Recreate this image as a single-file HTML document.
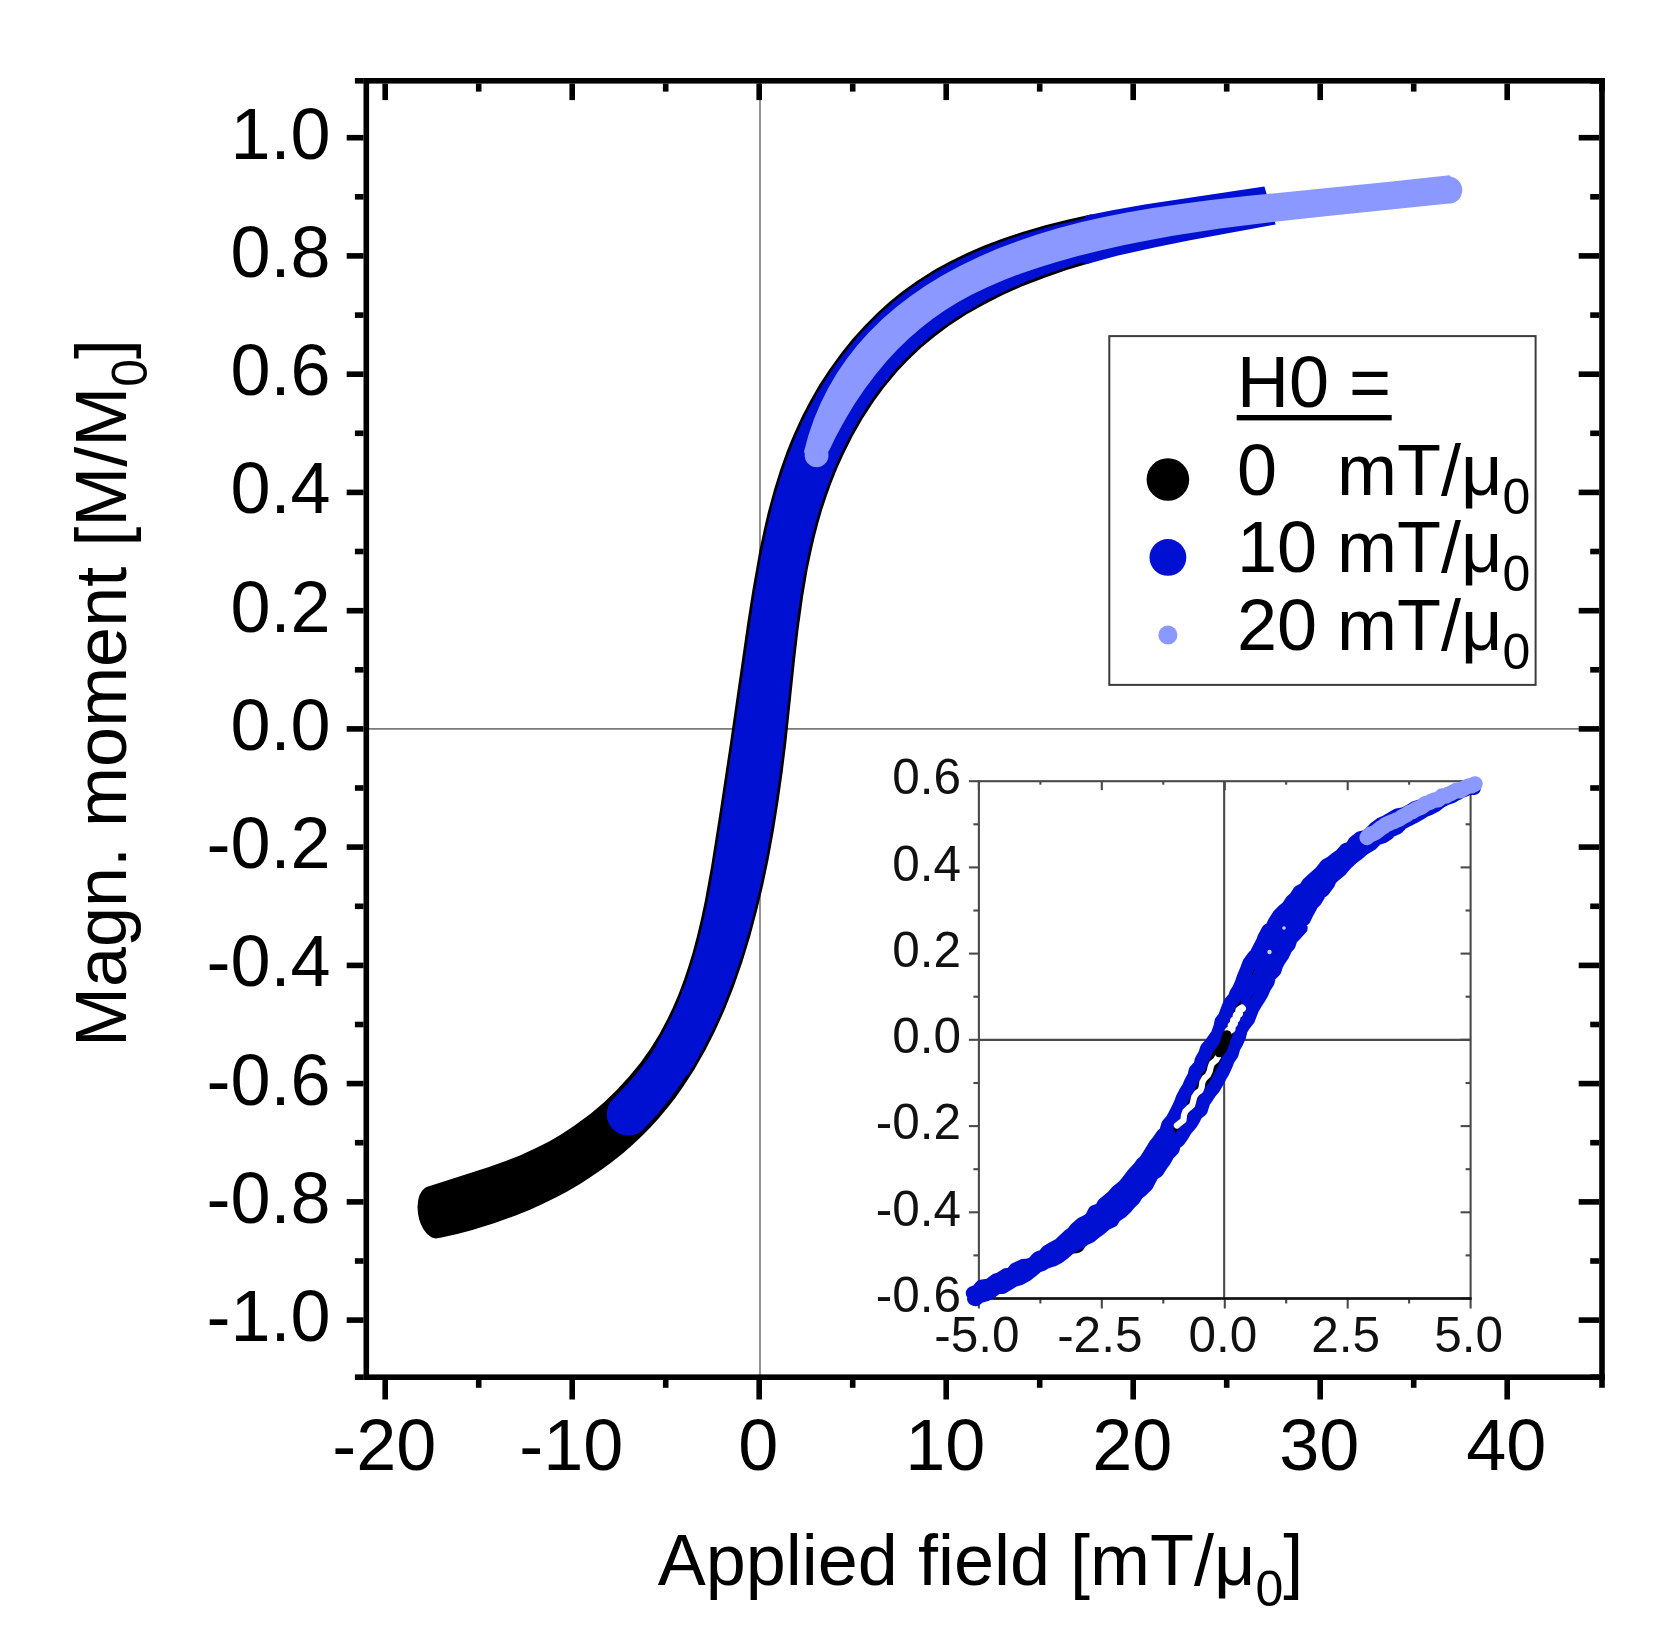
<!DOCTYPE html>
<html lang="en"><head><meta charset="utf-8"><title>Magnetisation curve</title>
<style>html,body{margin:0;padding:0;background:#fff}svg{display:block;filter:blur(0.55px)}</style></head>
<body>
<svg width="1659" height="1648" viewBox="0 0 1659 1648" font-family="'Liberation Sans', Arial, sans-serif" fill="#000">
<rect width="1659" height="1648" fill="#fff"/>
<g stroke="#7a7a7a" stroke-width="1.6"><line x1="366.3" x2="1602.0" y1="728.9" y2="728.9"/><line x1="760.0" x2="760.0" y1="80.8" y2="1377.2"/></g>
<path d="M426.6 1187.0 L424.9 1188.0 L421.9 1191.0 L419.5 1195.3 L418.7 1197.9 L418.1 1200.7 L417.5 1206.9 L418.0 1213.4 L419.3 1219.8 L420.4 1222.9 L423.0 1228.4 L426.2 1233.0 L428.0 1234.8 L431.8 1237.4 L433.7 1238.1 L435.7 1238.4 L440.4 1237.7 L457.3 1233.9 L471.5 1230.2 L494.0 1223.3 L516.3 1215.3 L530.0 1209.7 L543.5 1203.6 L556.8 1197.0 L567.2 1191.4 L580.0 1183.9 L589.9 1177.6 L602.1 1169.3 L611.6 1162.3 L623.0 1153.2 L631.8 1145.6 L642.5 1135.6 L650.6 1127.3 L658.4 1118.7 L667.8 1107.6 L674.9 1098.4 L683.3 1086.6 L694.4 1069.5 L705.9 1049.2 L715.2 1030.8 L724.9 1009.3 L733.6 987.3 L742.4 962.0 L750.2 936.4 L757.1 910.6 L763.3 884.7 L768.7 858.9 L774.0 830.0 L778.6 801.1 L782.7 772.1 L786.3 742.9 L795.3 657.6 L798.7 628.2 L803.2 595.9 L807.6 569.7 L811.2 552.4 L814.5 538.1 L818.1 523.9 L822.2 509.8 L826.8 495.8 L831.8 482.0 L837.3 468.3 L843.3 454.9 L852.5 436.5 L862.6 418.7 L873.8 401.6 L884.1 387.5 L897.1 371.8 L909.0 359.2 L921.7 347.3 L935.1 336.2 L949.1 325.8 L966.3 314.6 L984.2 304.4 L1002.7 295.1 L1021.7 286.6 L1044.0 277.9 L1066.6 270.1 L1092.0 262.5 L1092.0 214.2 L1068.3 219.4 L1045.2 225.3 L1022.4 231.9 L1002.8 238.5 L983.6 245.8 L967.5 252.8 L949.2 261.7 L934.0 270.1 L916.9 280.9 L902.8 291.0 L889.2 302.0 L876.3 313.7 L864.0 326.2 L852.2 339.3 L841.2 353.0 L829.1 369.8 L819.4 384.6 L810.5 399.9 L802.3 415.6 L793.7 434.3 L787.0 450.6 L780.1 469.9 L774.0 489.5 L767.8 512.3 L763.8 529.5 L759.5 549.7 L752.3 590.5 L747.3 622.6 L729.8 744.2 L719.4 813.6 L711.1 866.3 L704.7 901.5 L701.0 918.9 L696.9 936.2 L692.4 953.3 L688.1 967.3 L683.4 981.2 L678.3 994.8 L672.6 1008.1 L667.6 1018.6 L659.4 1033.9 L650.3 1048.7 L640.2 1063.0 L629.1 1076.6 L617.2 1089.6 L604.4 1101.9 L590.9 1113.4 L574.2 1125.8 L561.8 1133.9 L549.1 1141.4 L536.0 1148.1 L519.9 1155.4 L506.3 1160.8 L489.7 1166.7Z" fill="#000"/>
<path d="M643.3 1129.5 L657.5 1114.1 L670.1 1098.5 L678.6 1086.9 L685.8 1076.1 L688.0 1074.7 L699.4 1055.6 L711.5 1032.3 L717.7 1019.0 L723.5 1005.5 L734.1 978.0 L743.4 949.9 L751.6 921.4 L759.4 889.9 L766.6 855.5 L772.8 820.9 L777.6 789.1 L782.2 754.3 L785.9 722.1 L793.2 651.4 L797.5 616.1 L800.5 595.5 L803.4 578.0 L809.8 546.1 L814.8 526.0 L819.6 509.0 L826.2 489.4 L832.5 472.7 L840.8 453.8 L848.7 437.9 L857.3 422.3 L866.6 407.3 L873.2 397.6 L880.2 388.1 L887.5 379.0 L895.0 370.1 L903.0 361.5 L911.2 353.2 L926.5 339.5 L935.7 332.3 L945.2 325.3 L954.9 318.7 L964.9 312.4 L985.6 300.6 L996.2 295.3 L1009.7 288.9 L1026.2 281.8 L1043.0 275.3 L1062.9 268.5 L1081.6 262.6 L1084.0 262.7 L1086.0 264.2 L1118.1 255.6 L1155.5 247.2 L1190.1 240.3 L1275.7 224.4 L1264.4 186.4 L1144.7 204.5 L1112.3 210.2 L1086.1 215.4 L1085.2 217.4 L1083.3 218.8 L1054.5 225.6 L1026.0 233.6 L1000.9 242.0 L976.5 251.7 L963.4 257.7 L953.0 262.8 L940.4 269.6 L930.5 275.4 L920.8 281.6 L911.4 288.1 L902.2 294.9 L893.2 302.2 L884.5 309.8 L876.1 317.7 L867.9 325.9 L858.1 336.6 L843.3 354.7 L836.3 364.1 L828.1 376.1 L818.7 391.0 L808.7 408.9 L800.9 424.7 L792.8 443.4 L785.5 462.5 L779.1 481.9 L773.4 501.6 L767.7 524.3 L760.5 558.9 L754.0 596.7 L726.5 785.0 L712.8 872.6 L708.5 896.1 L703.7 919.5 L698.8 939.8 L693.3 959.7 L686.0 982.1 L677.4 1003.9 L672.6 1014.6 L667.4 1025.0 L661.8 1035.2 L656.7 1043.8 L656.7 1045.0 L656.1 1046.6 L646.7 1060.5 L635.8 1074.5 L626.0 1085.7 L611.2 1101.0 L609.0 1104.6 L607.5 1108.6 L606.8 1112.7 L606.8 1115.6 L607.5 1119.6 L608.4 1122.4 L610.3 1126.0 L612.0 1128.3 L614.1 1130.3 L617.4 1132.7 L620.1 1134.0 L624.0 1135.2 L626.9 1135.6 L631.0 1135.5 L633.9 1134.9 L637.7 1133.4 L640.2 1132.0Z" fill="#0010d2"/>
<path d="M803.9 452.0 L804.7 453.2 L804.7 456.5 L805.5 459.9 L807.4 462.9 L810.0 465.3 L812.1 466.4 L814.2 467.1 L817.7 467.2 L821.1 466.4 L824.2 464.5 L826.6 461.9 L828.1 458.8 L828.5 456.4 L828.3 452.3 L828.5 451.3 L829.2 450.5 L835.3 437.8 L842.0 425.2 L848.2 414.4 L854.7 403.8 L864.7 388.9 L875.4 374.7 L886.8 361.0 L897.7 349.3 L909.1 338.2 L921.0 327.9 L932.1 319.2 L945.0 310.3 L958.3 302.1 L972.1 294.5 L987.8 286.9 L1004.0 280.0 L1020.4 273.7 L1038.9 267.4 L1057.5 261.7 L1078.0 256.1 L1100.3 250.5 L1124.5 245.1 L1148.7 240.2 L1173.0 235.8 L1220.1 228.6 L1272.7 221.9 L1325.3 216.2 L1446.6 203.8 L1451.3 203.6 L1453.9 202.8 L1457.3 200.8 L1459.2 198.9 L1460.7 196.7 L1461.7 194.1 L1462.2 191.5 L1462.2 188.8 L1461.3 185.0 L1460.0 182.5 L1457.3 179.6 L1453.9 177.6 L1450.6 176.5 L1449.6 175.3 L1391.9 181.6 L1246.4 196.1 L1208.9 200.3 L1179.0 204.2 L1152.8 208.0 L1126.8 212.5 L1102.8 217.3 L1080.7 222.3 L1058.8 228.0 L1037.1 234.5 L1017.5 241.2 L998.0 248.6 L979.0 256.8 L960.4 265.8 L942.3 275.6 L926.4 285.3 L911.1 295.8 L896.4 307.1 L882.5 319.1 L869.3 332.1 L857.0 345.8 L846.7 359.0 L837.2 372.8 L828.6 387.5 L820.8 402.9 L814.0 419.1 L808.2 436.1Z" fill="#8a98ff"/>
<g><rect x="363.5" y="78.0" width="5.6" height="1302.0"/><rect x="1599.2" y="78.0" width="5.6" height="1302.0"/><rect x="363.5" y="78.0" width="1241.3" height="5.6"/><rect x="363.5" y="1374.4" width="1241.3" height="5.6"/><rect x="354.9" y="1374.4" width="8.6" height="5.6"/><rect x="1590.2" y="1374.4" width="9.0" height="5.6"/><rect x="346.7" y="1317.3" width="16.8" height="5.6"/><rect x="1578.7" y="1317.3" width="20.5" height="5.6"/><rect x="354.9" y="1258.2" width="8.6" height="5.6"/><rect x="1590.2" y="1258.2" width="9.0" height="5.6"/><rect x="346.7" y="1199.1" width="16.8" height="5.6"/><rect x="1578.7" y="1199.1" width="20.5" height="5.6"/><rect x="354.9" y="1139.9" width="8.6" height="5.6"/><rect x="1590.2" y="1139.9" width="9.0" height="5.6"/><rect x="346.7" y="1080.8" width="16.8" height="5.6"/><rect x="1578.7" y="1080.8" width="20.5" height="5.6"/><rect x="354.9" y="1021.7" width="8.6" height="5.6"/><rect x="1590.2" y="1021.7" width="9.0" height="5.6"/><rect x="346.7" y="962.6" width="16.8" height="5.6"/><rect x="1578.7" y="962.6" width="20.5" height="5.6"/><rect x="354.9" y="903.5" width="8.6" height="5.6"/><rect x="1590.2" y="903.5" width="9.0" height="5.6"/><rect x="346.7" y="844.3" width="16.8" height="5.6"/><rect x="1578.7" y="844.3" width="20.5" height="5.6"/><rect x="354.9" y="785.2" width="8.6" height="5.6"/><rect x="1590.2" y="785.2" width="9.0" height="5.6"/><rect x="346.7" y="726.1" width="16.8" height="5.6"/><rect x="1578.7" y="726.1" width="20.5" height="5.6"/><rect x="354.9" y="667.0" width="8.6" height="5.6"/><rect x="1590.2" y="667.0" width="9.0" height="5.6"/><rect x="346.7" y="607.9" width="16.8" height="5.6"/><rect x="1578.7" y="607.9" width="20.5" height="5.6"/><rect x="354.9" y="548.7" width="8.6" height="5.6"/><rect x="1590.2" y="548.7" width="9.0" height="5.6"/><rect x="346.7" y="489.6" width="16.8" height="5.6"/><rect x="1578.7" y="489.6" width="20.5" height="5.6"/><rect x="354.9" y="430.5" width="8.6" height="5.6"/><rect x="1590.2" y="430.5" width="9.0" height="5.6"/><rect x="346.7" y="371.4" width="16.8" height="5.6"/><rect x="1578.7" y="371.4" width="20.5" height="5.6"/><rect x="354.9" y="312.3" width="8.6" height="5.6"/><rect x="1590.2" y="312.3" width="9.0" height="5.6"/><rect x="346.7" y="253.1" width="16.8" height="5.6"/><rect x="1578.7" y="253.1" width="20.5" height="5.6"/><rect x="354.9" y="194.0" width="8.6" height="5.6"/><rect x="1590.2" y="194.0" width="9.0" height="5.6"/><rect x="346.7" y="134.9" width="16.8" height="5.6"/><rect x="1578.7" y="134.9" width="20.5" height="5.6"/><rect x="354.9" y="78.0" width="8.6" height="5.6"/><rect x="1590.2" y="78.0" width="9.0" height="5.6"/><rect x="382.4" y="83.6" width="5.6" height="16.5"/><rect x="382.4" y="1380.0" width="5.6" height="19.5"/><rect x="475.9" y="83.6" width="5.6" height="8.0"/><rect x="475.9" y="1380.0" width="5.6" height="7.8"/><rect x="569.4" y="83.6" width="5.6" height="16.5"/><rect x="569.4" y="1380.0" width="5.6" height="19.5"/><rect x="662.9" y="83.6" width="5.6" height="8.0"/><rect x="662.9" y="1380.0" width="5.6" height="7.8"/><rect x="756.4" y="83.6" width="5.6" height="16.5"/><rect x="756.4" y="1380.0" width="5.6" height="19.5"/><rect x="849.9" y="83.6" width="5.6" height="8.0"/><rect x="849.9" y="1380.0" width="5.6" height="7.8"/><rect x="943.4" y="83.6" width="5.6" height="16.5"/><rect x="943.4" y="1380.0" width="5.6" height="19.5"/><rect x="1036.9" y="83.6" width="5.6" height="8.0"/><rect x="1036.9" y="1380.0" width="5.6" height="7.8"/><rect x="1130.4" y="83.6" width="5.6" height="16.5"/><rect x="1130.4" y="1380.0" width="5.6" height="19.5"/><rect x="1223.9" y="83.6" width="5.6" height="8.0"/><rect x="1223.9" y="1380.0" width="5.6" height="7.8"/><rect x="1317.4" y="83.6" width="5.6" height="16.5"/><rect x="1317.4" y="1380.0" width="5.6" height="19.5"/><rect x="1410.9" y="83.6" width="5.6" height="8.0"/><rect x="1410.9" y="1380.0" width="5.6" height="7.8"/><rect x="1504.4" y="83.6" width="5.6" height="16.5"/><rect x="1504.4" y="1380.0" width="5.6" height="19.5"/><rect x="1599.2" y="83.6" width="5.6" height="8.0"/><rect x="1599.2" y="1380.0" width="5.6" height="7.8"/></g>
<g font-size="72" text-anchor="end">
<text x="330.5" y="1341.1">-1.0</text>
<text x="330.5" y="1222.9">-0.8</text>
<text x="330.5" y="1104.6">-0.6</text>
<text x="330.5" y="986.4">-0.4</text>
<text x="330.5" y="868.1">-0.2</text>
<text x="330.5" y="749.9">0.0</text>
<text x="330.5" y="631.7">0.2</text>
<text x="330.5" y="513.4">0.4</text>
<text x="330.5" y="395.2">0.6</text>
<text x="330.5" y="276.9">0.8</text>
<text x="330.5" y="158.7">1.0</text>
</g>
<g font-size="72" text-anchor="middle">
<text x="384.2" y="1469.8">-20</text>
<text x="571.2" y="1469.8">-10</text>
<text x="758.2" y="1469.8">0</text>
<text x="945.2" y="1469.8">10</text>
<text x="1132.2" y="1469.8">20</text>
<text x="1319.2" y="1469.8">30</text>
<text x="1506.2" y="1469.8">40</text>
</g>
<text x="980.5" y="1584.8" font-size="72" text-anchor="middle">Applied field [mT/μ<tspan font-size="50" dy="21">0</tspan><tspan dy="-21">]</tspan></text>
<text transform="translate(126.3 693) rotate(-90)" font-size="72" text-anchor="middle">Magn. moment [M/M<tspan font-size="50" dy="21">0</tspan><tspan dy="-21">]</tspan></text>
<rect x="1109.3" y="336.1" width="426.3" height="348.8" fill="#fff" stroke="#3c3c3c" stroke-width="2"/>
<text x="1237" y="406.9" font-size="72">H0 =</text>
<rect x="1236.7" y="415" width="155" height="5.4"/>
<circle cx="1167.9" cy="479.5" r="21.3" fill="#000"/>
<text x="1237" y="494.8" font-size="72">0<tspan x="1337">mT/μ</tspan><tspan font-size="50" dy="19">0</tspan></text>
<circle cx="1167.9" cy="557.4" r="18.4" fill="#0010d2"/>
<text x="1237" y="572" font-size="72">10<tspan x="1337">mT/μ</tspan><tspan font-size="50" dy="19">0</tspan></text>
<circle cx="1167.9" cy="635" r="9.5" fill="#8a98ff"/>
<text x="1237" y="650" font-size="72">20<tspan x="1337">mT/μ</tspan><tspan font-size="50" dy="19">0</tspan></text>
<g stroke="#4a4a4a" stroke-width="2.1" fill="none"><line x1="978.9" x2="1470.6" y1="1039.85" y2="1039.85"/><line x1="1224.15" x2="1224.15" y1="781.2" y2="1298.5"/><rect x="978.9" y="781.2" width="491.7" height="517.3"/><line x1="968.9" x2="978.9" y1="1298.5" y2="1298.5"/><line x1="1460.6" x2="1470.6" y1="1298.5" y2="1298.5"/><line x1="973.4" x2="978.9" y1="1255.4" y2="1255.4"/><line x1="1465.6" x2="1470.6" y1="1255.4" y2="1255.4"/><line x1="968.9" x2="978.9" y1="1212.3" y2="1212.3"/><line x1="1460.6" x2="1470.6" y1="1212.3" y2="1212.3"/><line x1="973.4" x2="978.9" y1="1169.2" y2="1169.2"/><line x1="1465.6" x2="1470.6" y1="1169.2" y2="1169.2"/><line x1="968.9" x2="978.9" y1="1126.1" y2="1126.1"/><line x1="1460.6" x2="1470.6" y1="1126.1" y2="1126.1"/><line x1="973.4" x2="978.9" y1="1083.0" y2="1083.0"/><line x1="1465.6" x2="1470.6" y1="1083.0" y2="1083.0"/><line x1="968.9" x2="978.9" y1="1039.8" y2="1039.8"/><line x1="1460.6" x2="1470.6" y1="1039.8" y2="1039.8"/><line x1="973.4" x2="978.9" y1="996.7" y2="996.7"/><line x1="1465.6" x2="1470.6" y1="996.7" y2="996.7"/><line x1="968.9" x2="978.9" y1="953.6" y2="953.6"/><line x1="1460.6" x2="1470.6" y1="953.6" y2="953.6"/><line x1="973.4" x2="978.9" y1="910.5" y2="910.5"/><line x1="1465.6" x2="1470.6" y1="910.5" y2="910.5"/><line x1="968.9" x2="978.9" y1="867.4" y2="867.4"/><line x1="1460.6" x2="1470.6" y1="867.4" y2="867.4"/><line x1="973.4" x2="978.9" y1="824.3" y2="824.3"/><line x1="1465.6" x2="1470.6" y1="824.3" y2="824.3"/><line x1="968.9" x2="978.9" y1="781.2" y2="781.2"/><line x1="1460.6" x2="1470.6" y1="781.2" y2="781.2"/><line x1="978.9" x2="978.9" y1="781.2" y2="790.2"/><line x1="978.9" x2="978.9" y1="1298.5" y2="1308.5"/><line x1="1040.4" x2="1040.4" y1="781.2" y2="784.7"/><line x1="1040.4" x2="1040.4" y1="1298.5" y2="1303.5"/><line x1="1101.8" x2="1101.8" y1="781.2" y2="790.2"/><line x1="1101.8" x2="1101.8" y1="1298.5" y2="1308.5"/><line x1="1163.3" x2="1163.3" y1="781.2" y2="784.7"/><line x1="1163.3" x2="1163.3" y1="1298.5" y2="1303.5"/><line x1="1224.8" x2="1224.8" y1="781.2" y2="790.2"/><line x1="1224.8" x2="1224.8" y1="1298.5" y2="1308.5"/><line x1="1286.2" x2="1286.2" y1="781.2" y2="784.7"/><line x1="1286.2" x2="1286.2" y1="1298.5" y2="1303.5"/><line x1="1347.7" x2="1347.7" y1="781.2" y2="790.2"/><line x1="1347.7" x2="1347.7" y1="1298.5" y2="1308.5"/><line x1="1409.1" x2="1409.1" y1="781.2" y2="784.7"/><line x1="1409.1" x2="1409.1" y1="1298.5" y2="1303.5"/><line x1="1470.6" x2="1470.6" y1="781.2" y2="790.2"/><line x1="1470.6" x2="1470.6" y1="1298.5" y2="1308.5"/></g><line x1="977.9" x2="1471.6" y1="1298.5" y2="1298.5" stroke="#111" stroke-width="2.4"/>
<g fill="none" stroke-linecap="round" stroke-linejoin="round"><path d="M1072.2 1243.6 L1075.6 1243.2 L1077.0 1238.3 L1080.7 1235.2 L1083.8 1231.5 L1088.3 1232.1 L1090.8 1230.8 L1094.9 1223.9 L1094.8 1221.2 L1101.9 1219.7 L1102.8 1215.0 L1106.7 1212.7 L1108.6 1209.6 L1111.2 1207.2 L1115.2 1205.4 L1118.5 1201.1 L1120.3 1199.3 L1123.3 1194.8 L1127.3 1192.8 L1128.5 1187.0 L1130.7 1185.0 L1136.0 1184.8 L1137.7 1180.2 L1139.1 1178.6 L1143.3 1175.6 L1146.5 1173.4 L1148.4 1169.6 L1150.6 1166.6 L1155.0 1162.0 L1158.4 1157.9 L1159.4 1154.4 L1161.0 1151.1 L1164.5 1146.8 L1167.0 1143.9 L1167.9 1140.8 L1170.9 1137.5 L1173.6 1133.2 L1174.2 1127.6 L1175.5 1126.2 L1179.1 1123.0 L1181.2 1120.5 L1184.4 1116.3 L1183.9 1111.4 L1187.0 1107.8 L1189.1 1107.6 L1190.4 1102.6 L1195.0 1100.4 L1197.9 1097.2 L1198.7 1090.1 L1203.4 1088.0 L1204.9 1084.4 L1206.8 1080.8 L1208.5 1077.1 L1211.1 1072.9 L1210.2 1069.0 L1214.2 1063.1 L1215.9 1060.8 L1214.7 1056.2 L1218.9 1053.3 L1219.8 1048.6 L1222.7 1046.0 L1222.9 1042.3 L1225.1 1037.8 L1227.4 1034.0 L1227.8 1029.9 L1231.5 1025.4 L1232.7 1022.0 L1235.5 1017.9 L1236.4 1015.3 L1240.5 1011.2 L1242.1 1008.2 L1243.4 1002.2 L1246.5 1001.2 L1249.4 995.6 L1252.1 991.9 L1250.1 988.8 L1255.0 984.6 L1256.4 981.9 L1257.5 977.0 L1258.2 972.6 L1262.7 969.0 L1261.4 967.7 L1265.3 962.4 L1267.9 957.1 L1266.2 954.7 L1269.7 949.0 L1270.4 949.3 L1274.3 941.7 L1277.9 940.4 L1280.8 937.0 L1278.5 931.1 L1282.4 929.8 L1286.4 927.3 L1290.0 923.3 L1291.2 919.8 L1292.5 917.4 L1296.3 913.3 L1298.6 910.3 L1301.0 906.5 L1302.9 904.2 L1306.8 899.1 L1309.2 898.0 L1311.3 893.1 L1313.6 889.1 L1314.8 887.6 L1318.3 885.9 L1322.8 881.7 L1323.7 876.7 L1324.9 875.0 L1331.0 870.4" stroke="#000" stroke-width="20"/><path d="M975.7 1299.5 L979.4 1296.5 L987.1 1294.2 L991.7 1291.5 L997.5 1287.0 L1002.5 1287.2 L1007.9 1283.9 L1013.9 1280.3 L1020.7 1278.2 L1026.9 1274.6 L1030.9 1271.5 L1037.3 1266.1 L1041.6 1264.7 L1045.8 1262.2 L1052.9 1259.9 L1058.6 1257.0 L1063.3 1253.4 L1069.3 1248.2 L1074.9 1244.1 L1079.2 1242.9 L1084.0 1239.1 L1090.2 1236.3 L1095.4 1231.9 L1100.4 1228.4 L1106.5 1223.2 L1112.0 1220.8 L1115.0 1216.0 L1120.6 1212.4 L1125.3 1208.1 L1129.5 1203.1 L1134.0 1198.9 L1137.0 1193.9 L1142.0 1189.8 L1147.0 1184.8 L1149.9 1179.0 L1152.5 1174.1 L1157.3 1171.0 L1161.5 1164.5 L1164.5 1160.4 L1167.5 1154.9 L1172.9 1149.2 L1174.3 1144.0 L1179.4 1139.6 L1182.7 1134.7 L1185.4 1129.9 L1191.0 1123.3 L1193.9 1118.7 L1196.2 1113.9 L1201.1 1110.0 L1203.7 1101.6 L1205.9 1098.5 L1210.1 1092.3 L1214.0 1087.6 L1217.4 1081.4 L1220.0 1076.5 L1222.8 1071.9 L1225.9 1065.2 L1228.1 1059.6 L1231.9 1053.9 L1233.8 1047.3 L1236.5 1042.6 L1239.4 1036.3 L1240.8 1030.2 L1243.8 1025.1 L1248.3 1019.4 L1250.2 1014.6 L1252.6 1008.4 L1256.1 1002.6 L1258.5 998.8 L1262.0 993.0 L1264.2 987.7 L1267.9 981.8 L1269.4 975.9 L1274.8 970.3 L1276.4 965.2 L1278.6 960.9 L1282.7 955.0 L1285.6 948.5 L1289.1 944.5 L1291.1 938.2 L1295.3 934.3 L1300.9 928.1 L1300.0 922.9 L1304.2 918.8 L1306.7 913.5 L1310.2 907.2 L1311.7 904.1 L1315.5 900.2 L1320.2 892.4 L1323.3 890.2 L1328.3 883.5 L1330.2 879.0 L1334.8 874.8 L1341.2 869.5 L1342.6 867.5 L1346.9 862.8 L1352.2 857.8 L1356.9 854.4 L1362.4 849.6 L1366.7 846.9 L1371.0 844.3 L1376.8 838.7 L1383.9 836.3 L1388.0 833.5 L1389.9 830.9 L1397.3 827.8 L1401.9 823.1 L1408.4 819.6 L1413.1 817.3 L1420.1 813.4 L1424.7 810.3 L1430.1 808.3 L1435.0 805.8 L1440.3 801.7 L1446.1 798.5 L1452.5 796.4 L1457.5 791.8 L1462.4 790.8 L1469.4 787.6 L1474.2 788.2" stroke="#0010d2" stroke-width="13.5"/><path d="M972.5 1293.1 L977.7 1291.0 L981.3 1286.4 L989.4 1285.2 L995.7 1280.3 L999.3 1279.2 L1006.0 1275.0 L1011.6 1274.0 L1015.2 1269.3 L1022.7 1265.8 L1028.5 1265.2 L1032.9 1263.6 L1038.0 1258.1 L1043.9 1255.9 L1047.1 1251.8 L1053.5 1247.9 L1059.2 1245.0 L1062.3 1242.0 L1068.9 1235.8 L1072.5 1233.3 L1075.8 1229.1 L1082.0 1223.7 L1085.8 1222.0 L1091.3 1218.2 L1094.5 1211.7 L1100.7 1209.7 L1103.7 1204.2 L1108.9 1199.9 L1112.4 1197.1 L1116.9 1191.9 L1122.3 1187.7 L1125.6 1184.3 L1129.2 1179.8 L1132.6 1175.1 L1138.5 1168.7 L1142.0 1164.0 L1145.0 1161.5 L1149.1 1155.2 L1151.6 1151.2 L1155.1 1145.3 L1158.6 1140.9 L1162.8 1134.9 L1165.8 1132.1 L1168.0 1124.7 L1172.1 1120.1 L1175.0 1114.6 L1177.3 1110.3 L1180.8 1102.8 L1182.4 1098.4 L1185.3 1092.7 L1188.4 1087.8 L1190.8 1082.2 L1194.2 1076.0 L1195.3 1071.1 L1200.3 1065.1 L1201.4 1060.3 L1204.8 1054.3 L1206.8 1048.4 L1211.3 1043.4 L1214.8 1038.3 L1217.6 1034.3 L1220.3 1026.5 L1221.2 1021.6 L1224.7 1017.0 L1227.8 1008.5 L1230.1 1003.1 L1234.4 997.9 L1236.3 993.0 L1238.8 989.4 L1241.9 982.0 L1243.5 977.1 L1246.4 970.3 L1249.2 962.9 L1253.2 957.4 L1256.0 954.5 L1259.2 948.3 L1262.7 941.6 L1263.9 938.1 L1267.9 930.7 L1271.9 927.6 L1274.3 922.6 L1278.6 915.8 L1283.7 910.6 L1287.8 907.3 L1291.9 901.0 L1295.3 897.9 L1299.4 891.7 L1304.8 888.9 L1308.1 883.9 L1313.2 879.1 L1318.6 874.5 L1321.8 871.2 L1326.3 865.4 L1331.4 862.5 L1336.6 858.3 L1341.3 855.1 L1345.9 849.6 L1351.1 848.0 L1354.4 842.6 L1360.0 838.1 L1365.9 836.5 L1370.3 833.1 L1375.2 828.1 L1380.6 824.2 L1386.3 821.6 L1392.4 817.9 L1397.3 815.2 L1404.0 813.9 L1410.9 810.3 L1415.3 807.6 L1422.2 805.3 L1427.3 802.6 L1432.0 801.0 L1438.6 798.8 L1443.9 795.7 L1451.2 794.0 L1455.5 793.8 L1463.4 790.2 L1468.6 787.7 L1472.3 787.5" stroke="#0010d2" stroke-width="13.5"/><path d="M973.5 1298.9 L977.8 1294.6 L979.3 1292.5 L982.4 1292.7 L985.8 1290.9 L988.2 1287.3 L990.6 1285.4 L993.6 1284.3 L996.6 1284.7 L1001.0 1282.3 L1002.6 1280.7 L1005.9 1280.3 L1011.1 1280.1 L1012.1 1276.9 L1016.9 1276.4 L1019.7 1274.2 L1021.5 1275.5 L1023.3 1273.5 L1027.5 1270.9 L1030.4 1268.1 L1033.3 1266.7 L1035.2 1262.4 L1038.7 1262.3 L1041.6 1259.0 L1042.3 1257.2 L1047.1 1256.0 L1049.0 1254.7 L1051.4 1253.9 L1054.6 1252.5 L1059.4 1250.8 L1061.7 1248.3 L1062.4 1248.1 L1066.8 1245.8 L1069.4 1245.1 L1072.0 1241.4 L1074.3 1237.9 L1076.1 1237.5 L1080.3 1237.3 L1081.2 1233.6 L1084.0 1230.7 L1086.2 1229.3 L1088.5 1226.7 L1092.2 1224.6 L1094.5 1221.8 L1096.3 1220.4 L1098.9 1218.6 L1102.0 1216.2 L1105.9 1214.0 L1108.0 1213.1 L1110.7 1211.8 L1112.8 1209.5 L1115.2 1207.2 L1117.9 1204.8 L1118.4 1204.0 L1123.2 1199.6 L1123.2 1197.5 L1125.3 1195.6 L1128.8 1191.5 L1129.8 1189.0 L1131.7 1187.2 L1133.4 1185.3 L1134.8 1181.8 L1138.6 1179.6 L1141.8 1177.2 L1142.5 1174.0 L1146.7 1173.6 L1147.1 1170.2 L1149.6 1166.7 L1152.7 1165.4 L1154.3 1161.6 L1156.6 1159.4 L1157.2 1157.4 L1158.5 1153.8 L1159.4 1152.5 L1161.4 1147.6 L1163.1 1146.1 L1164.4 1143.5 L1167.6 1141.5 L1168.6 1138.4 L1169.6 1135.2" stroke="#0010d2" stroke-width="13"/><path d="M1252.8 987.4 L1255.6 984.1 L1255.8 980.5 L1258.4 978.6 L1259.4 974.8 L1261.1 970.6 L1262.0 969.0 L1265.2 964.6 L1264.3 962.0 L1266.4 957.1 L1267.8 955.1 L1269.6 951.2 L1271.1 948.2 L1272.9 944.4 L1275.2 944.8 L1275.2 940.1 L1278.5 937.7 L1279.7 935.7 L1283.0 932.0 L1284.1 929.8 L1286.4 925.6 L1289.1 924.1 L1292.3 920.8 L1293.5 918.7 L1295.1 915.6 L1297.7 911.4 L1297.6 908.0 L1298.3 905.7 L1301.4 904.1 L1303.3 901.0 L1306.4 898.1 L1309.1 893.3 L1308.4 890.1 L1313.7 889.2 L1315.3 886.9 L1317.2 884.3 L1319.4 882.8 L1323.6 880.1 L1324.4 877.1 L1326.5 875.1 L1329.6 873.7 L1331.0 871.4 L1334.9 869.0 L1336.9 868.5 L1339.6 864.0 L1342.0 861.8 L1343.2 858.3 L1347.5 856.3 L1348.0 854.5 L1352.0 852.0 L1352.6 849.1 L1356.8 847.2 L1358.6 844.8 L1362.1 841.2 L1364.5 838.2 L1366.3 840.9 L1370.2 838.1 L1374.3 835.7 L1377.8 832.8 L1379.3 831.5 L1381.8 832.0 L1385.9 826.9 L1389.4 827.1 L1392.0 826.1 L1394.8 823.6 L1399.0 822.0 L1401.9 819.3 L1404.6 819.2 L1406.2 814.4 L1409.9 812.2 L1412.7 811.7 L1414.8 810.8 L1419.8 808.0 L1422.3 807.5 L1425.1 804.9 L1430.0 803.1 L1432.8 804.1 L1436.2 803.1 L1439.8 802.0 L1442.8 799.3 L1444.5 797.6 L1448.4 796.3 L1452.8 795.8 L1454.5 795.0 L1458.3 793.4 L1461.7 790.3 L1465.6 790.0 L1468.5 788.2 L1471.3 786.7 L1473.5 785.1" stroke="#0010d2" stroke-width="13"/><path d="M1061.3 1250.0 L1063.3 1247.3 L1065.9 1245.7 L1067.9 1244.2 L1071.5 1242.2 L1074.2 1241.0 L1075.9 1240.5 L1080.7 1238.7 L1083.0 1236.1 L1086.4 1234.5 L1088.0 1232.0 L1090.2 1230.1 L1092.5 1226.6 L1094.7 1225.0 L1096.8 1223.5 L1098.6 1221.3 L1104.1 1219.1 L1104.7 1217.8 L1108.4 1216.6 L1111.7 1214.9 L1113.8 1212.9 L1116.0 1209.7 L1118.0 1206.1 L1120.3 1205.4 L1121.6 1202.1 L1125.8 1199.9 L1125.6 1197.9 L1129.2 1195.1 L1131.6 1193.8 L1134.1 1192.3 L1137.1 1190.6 L1139.9 1187.4 L1140.1 1182.5 L1141.7 1181.6 L1144.4 1179.2 L1146.0 1177.2 L1149.1 1174.4 L1150.9 1173.4 L1152.9 1170.6 L1155.1 1168.5 L1157.9 1166.0 L1159.8 1162.0 L1160.7 1160.8 L1163.1 1157.7 L1164.3 1153.9 L1165.7 1151.7 L1167.2 1148.8 L1170.6 1145.6 L1172.1 1143.5 L1174.7 1141.2" stroke="#0010d2" stroke-width="11"/><path d="M1255.1 963.6 L1258.0 960.7 L1258.3 958.2 L1261.0 954.9 L1261.3 951.8 L1263.3 949.3 L1265.1 945.6 L1266.0 945.0 L1267.5 940.1 L1269.6 937.4 L1272.9 935.0 L1273.5 932.3 L1277.2 928.9 L1277.6 927.9 L1280.1 925.6 L1282.0 921.4 L1282.6 919.4 L1284.7 915.5 L1286.6 913.5 L1287.1 911.1 L1290.2 908.8 L1292.5 906.6 L1294.0 903.7 L1297.8 902.7 L1299.7 899.4 L1303.2 897.5 L1303.3 895.0 L1306.7 891.4 L1306.8 887.9 L1310.4 886.5 L1311.6 882.9 L1314.1 881.0 L1317.1 879.0 L1320.0 878.6 L1323.1 876.0 L1325.9 872.6 L1326.7 872.3 L1328.1 870.7 L1329.0 867.9 L1332.6 863.6 L1335.6 861.6 L1337.8 859.9 L1340.5 858.4 L1343.1 856.3 L1346.0 854.1 L1349.2 853.8 L1352.4 852.0 L1353.4 848.5 L1357.4 846.9 L1358.2 844.9" stroke="#0010d2" stroke-width="11"/><path d="M1245.3 1002.6 L1246.0 996.6 L1249.0 992.3 L1252.6 988.0 L1252.7 981.6 L1257.3 977.5 L1260.4 972.3 L1261.4 966.8" stroke="#0010d2" stroke-width="9"/><path d="M1176.9 1125.5 L1180.4 1122.7 L1183.4 1120.3 L1184.0 1115.3 L1185.4 1111.2 L1188.8 1108.0 L1192.1 1105.3 L1193.3 1101.2 L1194.2 1097.0 L1196.9 1093.1 L1200.4 1090.5 L1201.7 1087.1 L1202.4 1082.0 L1204.4 1078.4 L1207.8 1075.3 L1209.8 1071.2 L1210.6 1067.3 L1211.9 1063.6 L1216.0 1060.2 L1218.1 1056.4" stroke="#fff" stroke-width="6.2"/><path d="M1228.8 1030.9 L1231.6 1029.0 L1231.6 1025.6 L1233.9 1023.5 L1234.0 1020.6 L1236.2 1018.7 L1236.7 1015.3 L1239.1 1013.7 L1239.3 1010.3 L1241.9 1008.5" stroke="#fff" stroke-width="8"/><path d="M1219.2 1052.6 L1221.9 1049.4 L1223.7 1045.7 L1224.9 1042.7 L1225.9 1038.5 L1226.9 1035.0" stroke="#000" stroke-width="9.5"/><circle cx="1269.5" cy="952" r="2.2" fill="#c8d0ff" stroke="none"/><circle cx="1284" cy="928" r="1.8" fill="#c8d0ff" stroke="none"/><path d="M1367.1 837.5 L1370.0 834.2 L1371.5 834.3 L1375.8 832.2 L1378.1 830.4 L1380.8 828.2 L1383.8 826.4 L1385.2 825.2 L1386.5 824.4 L1391.2 822.3 L1394.5 821.1 L1397.2 819.8 L1398.9 819.2 L1401.8 817.1 L1404.6 815.6 L1406.1 815.0 L1409.4 812.5 L1412.1 811.6 L1416.1 809.2 L1417.5 808.6 L1421.5 807.0 L1423.3 805.7 L1425.0 803.9 L1430.1 802.2 L1430.9 801.4 L1434.7 800.0 L1438.1 799.7 L1439.6 798.5 L1442.0 796.0 L1446.1 796.0 L1448.4 794.2 L1450.4 793.6 L1453.3 792.0 L1456.5 790.3 L1460.2 790.7 L1462.2 789.4 L1465.6 787.3 L1469.0 785.9 L1471.6 785.8 L1475.0 783.9" stroke="#8a98ff" stroke-width="15.5"/></g>
<g font-size="49.5" text-anchor="end" fill="#111">
<text x="961" y="1311.7">-0.6</text>
<text x="961" y="1225.5">-0.4</text>
<text x="961" y="1139.3">-0.2</text>
<text x="961" y="1053.0">0.0</text>
<text x="961" y="966.8">0.2</text>
<text x="961" y="880.6">0.4</text>
<text x="961" y="794.4">0.6</text>
</g>
<g font-size="49.5" text-anchor="middle" fill="#111">
<text x="976.9" y="1351.5">-5.0</text>
<text x="1099.8" y="1351.5">-2.5</text>
<text x="1222.8" y="1351.5">0.0</text>
<text x="1345.7" y="1351.5">2.5</text>
<text x="1468.6" y="1351.5">5.0</text>
</g>
</svg>
</body></html>
